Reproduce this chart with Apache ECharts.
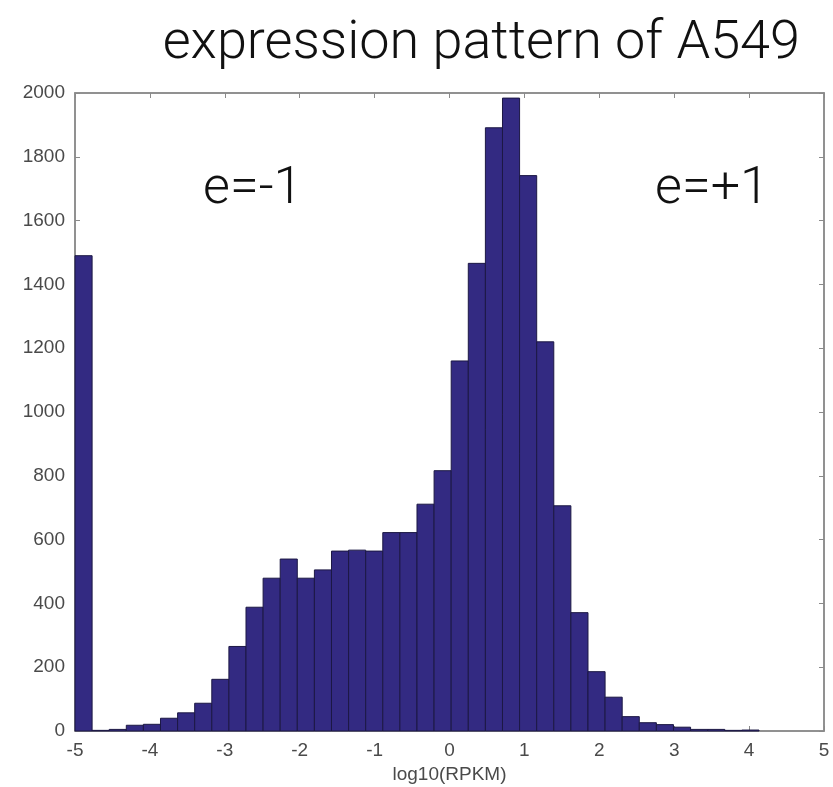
<!DOCTYPE html>
<html>
<head>
<meta charset="utf-8">
<script src="https://cdn.jsdelivr.net/npm/echarts@6/dist/echarts.min.js"></script>
<style>html,body{margin:0;padding:0;background:#fff}#c{width:833px;height:787px}</style>
</head>
<body>
<div id="c"></div>
<script>
// Histogram bin edges (log10 RPKM), 40 bins
const binEdges = [-5, -4.7717, -4.5434, -4.3151, -4.0868, -3.8585, -3.6302, -3.4019, -3.1736, -2.9453,
  -2.717, -2.4887, -2.2604, -2.0321, -1.8038, -1.5755, -1.3472, -1.1189, -0.8906, -0.6623,
  -0.434, -0.2057, 0.0226, 0.2509, 0.4792, 0.7075, 0.9358, 1.1641, 1.3924, 1.6207,
  1.849, 2.0773, 2.3056, 2.5339, 2.7622, 2.9905, 3.2188, 3.4471, 3.6754, 3.9037, 4.132];
// Counts per bin
const counts = [1490, 2, 5, 18, 21, 40, 57, 87, 162, 265,
  388, 479, 539, 479, 505, 564, 567, 564, 622, 622,
  711, 816, 1160, 1466, 1891, 1984, 1741, 1220, 706, 371,
  186, 106, 45, 26, 20, 12, 5, 5, 2, 3];
const xTicks = [-5, -4, -3, -2, -1, 0, 1, 2, 3, 4, 5];
const yTicks = [0, 200, 400, 600, 800, 1000, 1200, 1400, 1600, 1800, 2000];
const titleText = 'expression pattern of A549';
const xLabel = 'log10(RPKM)';
const noteLeft = 'e=-1';
const noteRight = 'e=+1';

const data = counts.map((c, i) => [binEdges[i], binEdges[i + 1], c]);

const chart = echarts.init(document.getElementById('c'));
const axisGray = '#8a8a8a';
const tickLabel = { color: '#4a4a4a', fontSize: 19, fontFamily: 'Liberation Sans', formatter: v => String(v) };
const lineCfg = { show: true, onZero: false, lineStyle: { color: axisGray, width: 1.5 } };
const tickCfg = { show: true, inside: true, length: 5, lineStyle: { color: axisGray } };
chart.setOption({
  animation: false,
  backgroundColor: '#fff',
  grid: { left: 75, right: 9, top: 93, bottom: 56, containLabel: false, outerBoundsMode: 'none',
    show: true, borderColor: axisGray, borderWidth: 1.5 },
  title: {
    text: titleText, right: 28, top: 12,
    textStyle: { fontFamily: 'Roboto', fontWeight: 300, fontSize: 54, color: '#111' }
  },
  graphic: [
    { type: 'text', left: 203, top: 164, style: { text: noteLeft, font: '300 52px Roboto', fill: '#111' } },
    { type: 'text', left: 655, top: 164, style: { text: noteRight, font: '300 52px Roboto', fill: '#111' } }
  ],
  xAxis: [{
    type: 'value', min: xTicks[0], max: xTicks[xTicks.length - 1], interval: 1,
    name: xLabel, nameLocation: 'middle', nameGap: 33,
    nameTextStyle: { color: '#4a4a4a', fontSize: 19, fontFamily: 'Liberation Sans' },
    axisLine: lineCfg, axisTick: tickCfg,
    axisLabel: Object.assign({ margin: 10 }, tickLabel),
    splitLine: { show: false }
  }, {
    type: 'value', position: 'top', min: xTicks[0], max: xTicks[xTicks.length - 1], interval: 1,
    axisLine: lineCfg, axisTick: tickCfg,
    axisLabel: { show: false }, splitLine: { show: false }
  }],
  yAxis: [{
    type: 'value', min: yTicks[0], max: yTicks[yTicks.length - 1], interval: 200,
    axisLine: lineCfg, axisTick: tickCfg,
    axisLabel: Object.assign({ margin: 10 }, tickLabel),
    splitLine: { show: false }
  }, {
    type: 'value', position: 'right', min: yTicks[0], max: yTicks[yTicks.length - 1], interval: 200,
    axisLine: lineCfg, axisTick: tickCfg,
    axisLabel: { show: false }, splitLine: { show: false }
  }],
  series: [{
    type: 'custom',
    xAxisIndex: 0, yAxisIndex: 0,
    encode: { x: [0, 1], y: 2 },
    data: data,
    renderItem: function (params, api) {
      const p0 = api.coord([api.value(0), api.value(2)]);
      const p1 = api.coord([api.value(1), 0]);
      return {
        type: 'rect',
        shape: { x: p0[0], y: p0[1], width: p1[0] - p0[0], height: p1[1] - p0[1] },
        style: { fill: '#332a82', stroke: '#1c1844', lineWidth: 1 }
      };
    }
  }]
});
</script>
</body>
</html>
